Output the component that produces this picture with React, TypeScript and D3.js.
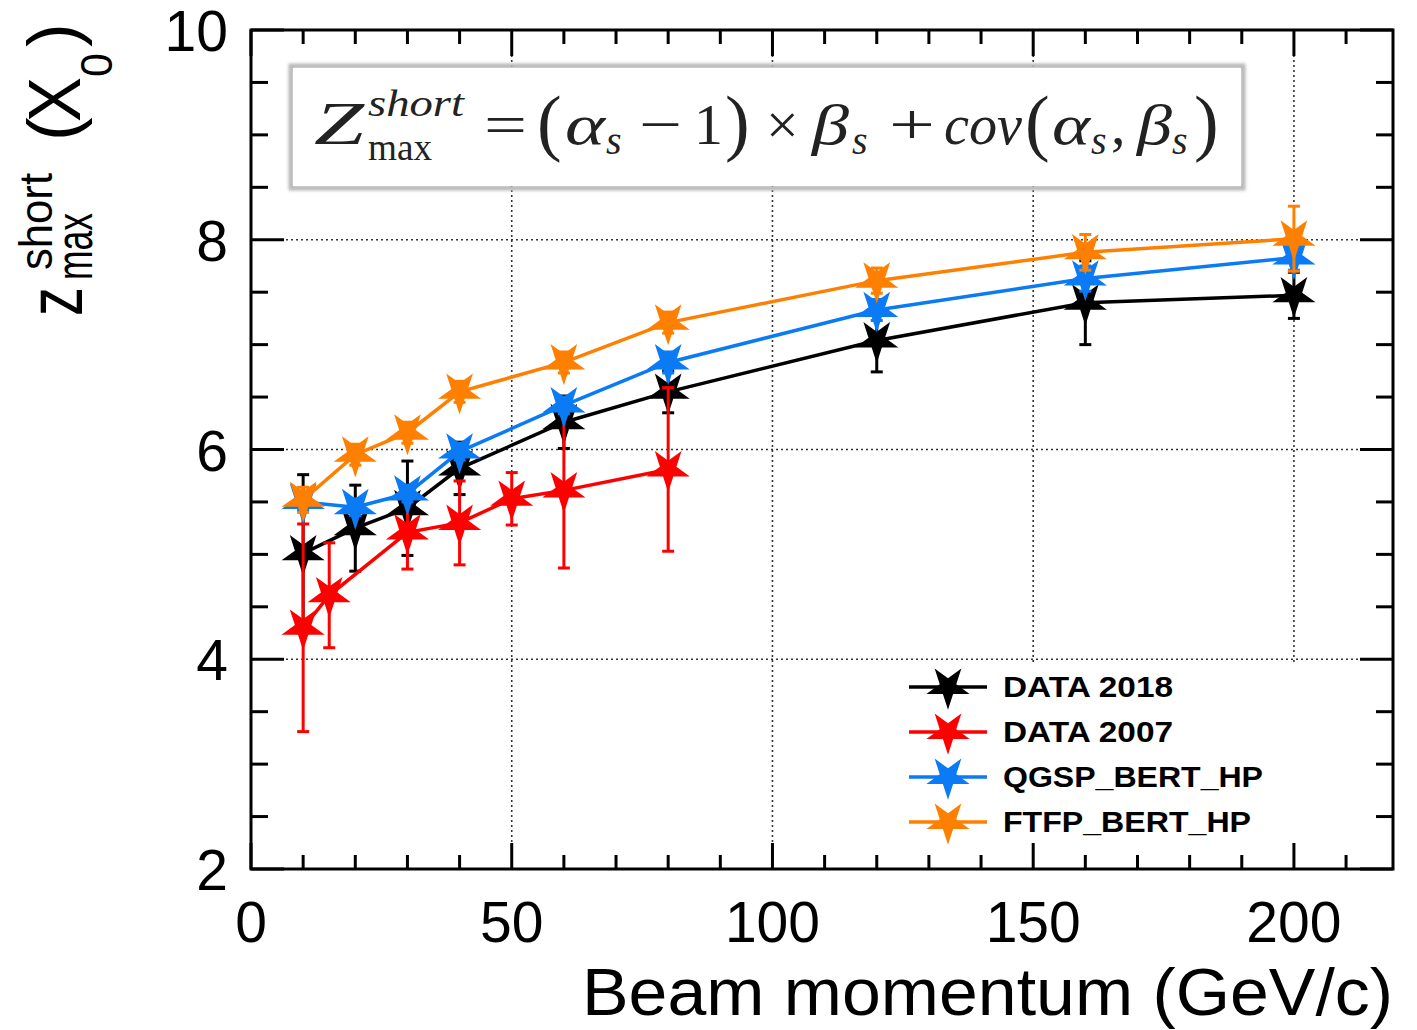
import React from "react";
import * as d3 from "d3";

// Beam momentum points (GeV/c) and measured / simulated shower-maximum depth
const momentum2018 = [10, 20, 30, 40, 60, 80, 120, 160, 200];
const zmax2018 = [5.01, 5.25, 5.44, 5.82, 6.26, 6.55, 7.04, 7.4, 7.47];
const err2018 = [0.75, 0.41, 0.45, 0.25, 0.25, 0.2, 0.3, 0.4, 0.22];

const momentum2007 = [10, 15, 30, 40, 50, 60, 80];
const zmax2007 = [4.3, 4.61, 5.21, 5.3, 5.53, 5.61, 5.81];
const err2007 = [0.99, 0.5, 0.35, 0.4, 0.25, 0.74, 0.78];

const momentumMC = [10, 20, 30, 40, 60, 80, 120, 160, 200];
const zmaxQGSP = [5.5, 5.45, 5.58, 5.98, 6.42, 6.83, 7.33, 7.63, 7.83];
const errQGSP = [0.08, 0.08, 0.08, 0.08, 0.08, 0.1, 0.1, 0.12, 0.12];
const zmaxFTFP = [5.52, 5.95, 6.16, 6.55, 6.83, 7.21, 7.61, 7.88, 8.01];
const errFTFP = [0.12, 0.1, 0.1, 0.1, 0.1, 0.1, 0.12, 0.17, 0.31];

const seriesNames = ["DATA 2018", "DATA 2007", "QGSP_BERT_HP", "FTFP_BERT_HP"];
const seriesColors = ["#000000", "#ff0000", "#0a7af5", "#ff8000"];

const xMajorTicks = [0, 50, 100, 150, 200];
const yMajorTicks = [2, 4, 6, 8, 10];

const W = 1417;
const H = 1030;
const frame = { left: 251, right: 1393, top: 30, bottom: 869 };

const x = d3.scaleLinear().domain([0, 219]).range([frame.left, frame.right]);
const y = d3.scaleLinear().domain([2, 10]).range([frame.bottom, frame.top]);

const series = [
  { xs: momentum2018, ys: zmax2018, es: err2018 },
  { xs: momentum2007, ys: zmax2007, es: err2007 },
  { xs: momentumMC, ys: zmaxQGSP, es: errQGSP },
  { xs: momentumMC, ys: zmaxFTFP, es: errFTFP },
].map((s, i) => ({
  ...s,
  name: seriesNames[i],
  color: seriesColors[i],
  pts: s.xs.map((v, j) => ({ x: v, y: s.ys[j], e: s.es[j] })),
}));

const starPath = d3.symbol().type(d3.symbolStar).size(580)() as string;
const line = d3
  .line<{ x: number; y: number }>()
  .x((d) => x(d.x))
  .y((d) => y(d.y));

const sans = "'Liberation Sans', Arial, Helvetica, sans-serif";
const serif = "'Liberation Serif', 'Times New Roman', serif";

// formula pieces: text, left x, baseline offset, size, italic, optional width
const formula: [string, number, number, number, boolean, number?][] = [
  ["Z", 314, 0, 62, true, 50],
  ["short", 368, -28, 38, true, 96],
  ["max", 368, 16, 38, false, 64],
  ["=", 484, 0, 58, false, 43],
  ["(", 537, 3, 74, false],
  ["α", 565, 0, 58, true, 40],
  ["s", 606, 10, 40, true],
  ["−", 639, 0, 58, false, 43],
  ["1", 694, 0, 58, false],
  [")", 725, 3, 74, false],
  ["×", 766, 0, 58, false],
  ["β", 812, 0, 58, true, 37],
  ["s", 852, 10, 40, true],
  ["+", 889, 0, 58, false, 46],
  ["cov", 944, 0, 58, true, 78],
  ["(", 1025, 3, 74, false],
  ["α", 1052, 0, 58, true, 38],
  ["s", 1091, 10, 40, true],
  [",", 1111, 0, 58, false],
  ["β", 1137, 0, 58, true, 35],
  ["s", 1172, 10, 40, true],
  [")", 1194, 3, 74, false],
];

// y title pieces: text, baseline screen x, start screen y, size, width
const yTitle: [string, number, number, number, number?][] = [
  ["z", 82, 316, 78, 29],
  ["max", 92, 280, 52, 67],
  ["short", 52, 270, 46, 97],
  ["(", 77, 141, 71],
  ["X", 80, 122, 74, 45],
  ["0", 112, 77, 44, 24],
  [")", 77, 47, 71],
];

const legendWidths = [170, 170, 260, 248];

export default function App() {
  const xMinor = d3.range(0, 220, 10);
  const yMinor = d3.range(2, 10.01, 0.5);
  return (
    <svg
      width={W}
      height={H}
      style={{ position: "absolute", left: 0, top: 0, background: "#fff" }}
    >
      <defs>
        <filter id="soft" x="-5%" y="-20%" width="110%" height="140%">
          <feGaussianBlur stdDeviation="1.6" />
        </filter>
      </defs>
      <rect x={0} y={0} width={W} height={H} fill="#fff" />

      {/* grid */}
      <g stroke="#333" strokeWidth={1.6} strokeDasharray="2 3">
        {xMajorTicks
          .filter((v) => v > 0)
          .map((v) => (
            <line key={"gx" + v} x1={x(v)} x2={x(v)} y1={frame.top} y2={frame.bottom} />
          ))}
        {yMajorTicks
          .filter((v) => v > 2 && v < 10)
          .map((v) => (
            <line key={"gy" + v} x1={frame.left} x2={frame.right} y1={y(v)} y2={y(v)} />
          ))}
      </g>

      {/* ticks */}
      <g stroke="#000" strokeWidth={3}>
        {xMinor.map((v) => {
          const len = v % 50 === 0 ? 26 : 14;
          return (
            <g key={"tx" + v}>
              <line x1={x(v)} x2={x(v)} y1={frame.bottom} y2={frame.bottom - len} />
              <line x1={x(v)} x2={x(v)} y1={frame.top} y2={frame.top + len} />
            </g>
          );
        })}
        {yMinor.map((v) => {
          const len = Math.abs(v % 2) < 1e-6 ? 33 : 17;
          return (
            <g key={"ty" + v}>
              <line x1={frame.left} x2={frame.left + len} y1={y(v)} y2={y(v)} />
              <line x1={frame.right} x2={frame.right - len} y1={y(v)} y2={y(v)} />
            </g>
          );
        })}
      </g>

      {/* formula box */}
      <rect x={291} y={66} width={952} height={122} fill="none" stroke="#b8b8b8" strokeWidth={5} filter="url(#soft)" />
      <rect x={293} y={68} width={948} height={118} fill="#fff" />
      <g fontFamily={serif} fill="#222">
        {formula.map(([t, px, dy, size, it, w], i) => (
          <text
            key={"f" + i}
            x={px}
            y={144 + dy}
            fontSize={size}
            fontStyle={it ? "italic" : "normal"}
            {...(w ? { textLength: w, lengthAdjust: "spacingAndGlyphs" } : {})}
          >
            {t}
          </text>
        ))}
      </g>

      {/* series */}
      {series.map((s) => (
        <g key={s.name}>
          <path d={line(s.pts) as string} fill="none" stroke={s.color} strokeWidth={3.5} />
          <g stroke={s.color} strokeWidth={3}>
            {s.pts.map((p, j) => (
              <g key={j}>
                <line x1={x(p.x)} x2={x(p.x)} y1={y(p.y - p.e)} y2={y(p.y + p.e)} />
                <line x1={x(p.x) - 6} x2={x(p.x) + 6} y1={y(p.y - p.e)} y2={y(p.y - p.e)} />
                <line x1={x(p.x) - 6} x2={x(p.x) + 6} y1={y(p.y + p.e)} y2={y(p.y + p.e)} />
              </g>
            ))}
          </g>
          {s.pts.map((p, j) => (
            <path
              key={"m" + j}
              d={starPath}
              fill={s.color}
              transform={`translate(${x(p.x)},${y(p.y)}) rotate(180)`}
            />
          ))}
        </g>
      ))}

      {/* legend */}
      <rect x={893} y={663} width={437} height={180} fill="#fff" />
      {series.map((s, i) => {
        const cy = 687 + i * 45;
        return (
          <g key={"lg" + i}>
            <line x1={909} x2={987} y1={cy} y2={cy} stroke={s.color} strokeWidth={3.5} />
            <path d={starPath} fill={s.color} transform={`translate(948,${cy}) rotate(180)`} />
            <text
              x={1003}
              y={cy + 10}
              fontFamily={sans}
              fontWeight="bold"
              fontSize={29}
              textLength={legendWidths[i]}
              lengthAdjust="spacingAndGlyphs"
            >
              {s.name}
            </text>
          </g>
        );
      })}

      {/* frame */}
      <rect
        x={frame.left}
        y={frame.top}
        width={frame.right - frame.left}
        height={frame.bottom - frame.top}
        fill="none"
        stroke="#000"
        strokeWidth={3}
      />

      {/* tick labels */}
      <g fontFamily={sans} fontSize={57} fill="#000">
        {xMajorTicks.map((v) => (
          <text key={"lx" + v} x={x(v)} y={942} textAnchor="middle">
            {v}
          </text>
        ))}
        {yMajorTicks.map((v) => (
          <text key={"ly" + v} x={228} y={y(v) + 21} textAnchor="end">
            {v}
          </text>
        ))}
      </g>

      {/* axis titles */}
      <text
        x={582}
        y={1015}
        fontFamily={sans}
        fontSize={66}
        textLength={811}
        lengthAdjust="spacingAndGlyphs"
      >
        Beam momentum (GeV/c)
      </text>
      <g fontFamily={sans} fill="#000">
        {yTitle.map(([t, bx, by, size, w], i) => (
          <text
            key={"yt" + i}
            transform={`translate(${bx},${by}) rotate(-90)`}
            fontSize={size}
            {...(w ? { textLength: w, lengthAdjust: "spacingAndGlyphs" } : {})}
          >
            {t}
          </text>
        ))}
      </g>
    </svg>
  );
}
